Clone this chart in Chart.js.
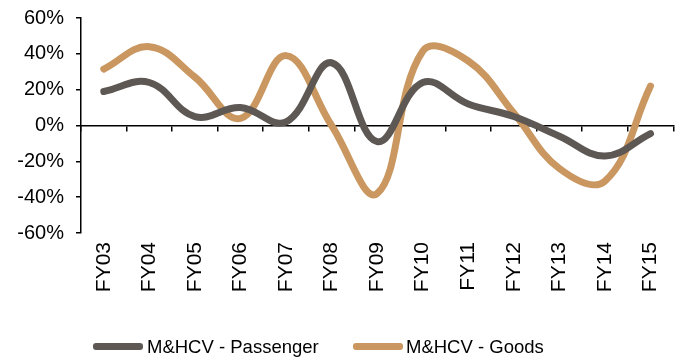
<!DOCTYPE html>
<html>
<head>
<meta charset="utf-8">
<script src="https://cdn.jsdelivr.net/npm/chart.js@4/dist/chart.umd.min.js"></script>
<style>
  html, body { margin: 0; padding: 0; background: #fff; }
  #wrap { position: relative; width: 685px; height: 360px; }
  .lg-line { position: absolute; height: 7px; width: 50px; border-radius: 3px; top: 343px; }
  .lg-text { position: absolute; top: 335px; font-family: "Liberation Sans", Arial, sans-serif; font-size: 18.5px; color: #000; line-height: 24px; white-space: nowrap; }
</style>
</head>
<body>
<div id="wrap">
  <canvas id="chart" width="685" height="360"></canvas>
  <span class="lg-line" style="left:93px;background:#5e5854"></span>
  <span class="lg-text" style="left:147px">M&amp;HCV - Passenger</span>
  <span class="lg-line" style="left:353px;background:#c9975f"></span>
  <span class="lg-text" style="left:406px">M&amp;HCV - Goods</span>
</div>
<script>
// Datos
const years = ['FY03', 'FY04', 'FY05', 'FY06', 'FY07', 'FY08', 'FY09', 'FY10', 'FY11', 'FY12', 'FY13', 'FY14', 'FY15'];
const passenger = [19, 24, 5, 10, 2, 35, -9, 24, 12, 5, -6, -17, -4.5];
const goods = [31.5, 44, 27, 4, 39, 0, -38, 41.5, 36, 7, -24, -31, 22];
const yTicks = [-60, -40, -20, 0, 20, 40, 60];

const font = { family: '"Liberation Sans", Arial, sans-serif' };

new Chart(document.getElementById('chart'), {
    type: 'line',
    data: {
        labels: years,
        datasets: [
            { label: 'M&HCV - Passenger', data: passenger, borderColor: '#5e5854', backgroundColor: '#5e5854',
              borderWidth: 7, tension: 0.4, pointRadius: 0, borderCapStyle: 'round', fill: false },
            { label: 'M&HCV - Goods', data: goods, borderColor: '#c9975f', backgroundColor: '#c9975f',
              borderWidth: 7, tension: 0.4, pointRadius: 0, borderCapStyle: 'round', fill: false }
        ]
    },
    options: {
        responsive: false,
        animation: false,
        layout: { padding: { top: 18, right: 8, bottom: 0, left: 0 } },
        plugins: { legend: { display: false }, tooltip: { enabled: false } },
        scales: {
            x: {
                type: 'category',
                position: 'bottom',
                offset: true,
                border: { display: false },
                grid: { display: false, drawTicks: false, offset: true },
                ticks: { color: '#000', font: { ...font, size: 21 }, minRotation: 90, maxRotation: 90, autoSkip: false, padding: 9 },
                afterFit: s => { s.height = 127; }
            },
            x2: {
                type: 'category',
                position: { y: 0 },
                offset: true,
                border: { display: true, color: '#000', width: 1.5 },
                grid: { drawOnChartArea: false, drawTicks: true, tickLength: 5, color: '#000', lineWidth: 1.5, offset: true },
                ticks: { display: false }
            },
            y: {
                min: -60,
                max: 60,
                afterBuildTicks: s => { s.ticks = yTicks.map(v => ({ value: v })); },
                border: { display: true, color: '#000', width: 1.5 },
                grid: { drawOnChartArea: false, drawTicks: true, tickLength: 5, color: '#000', lineWidth: 1.5 },
                ticks: { color: '#000', font: { ...font, size: 20 }, padding: 12, callback: v => v + '%' },
                afterFit: s => { s.width = 81; s.paddingTop = 10; s.paddingBottom = 10; }
            }
        }
    }
});
</script>
</body>
</html>
